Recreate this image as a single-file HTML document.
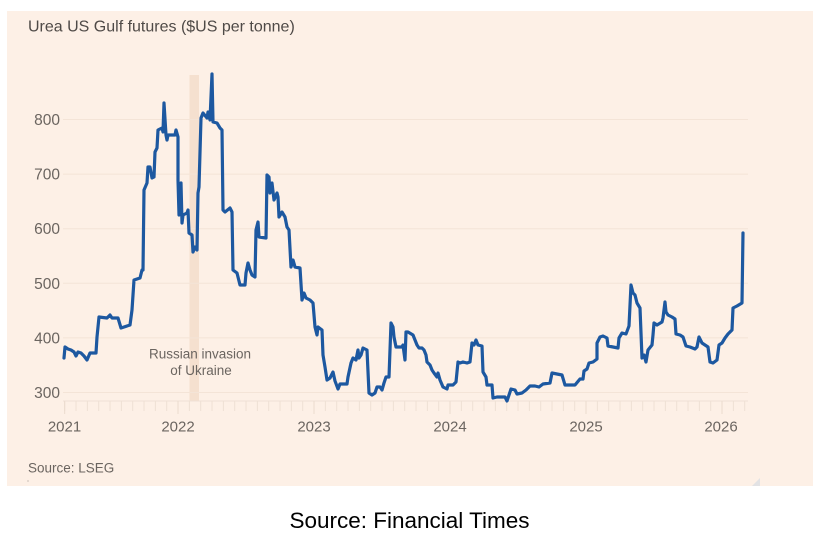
<!DOCTYPE html>
<html>
<head>
<meta charset="utf-8">
<style>
  html, body { margin:0; padding:0; background:#ffffff; }
  body { width:829px; height:535px; overflow:hidden; }
  svg { display:block; }
  text { font-family: "Liberation Sans", Arial, sans-serif; }
</style>
</head>
<body>
<svg width="829" height="535" viewBox="0 0 829 535" xmlns="http://www.w3.org/2000/svg">
  <defs>
    <pattern id="minor" patternUnits="userSpaceOnUse" x="64.2" y="401" width="11.3333" height="20">
      <rect x="0" y="0" width="1" height="10" fill="#eee0d4"/>
    </pattern>
  </defs>
  <rect x="0" y="0" width="829" height="535" fill="#ffffff"/>
  <rect x="7" y="11" width="806" height="475" fill="#fdf0e6"/>

  <rect x="189.5" y="75" width="9.5" height="326" fill="#f5e0cf"/>

  <g stroke="#f4e4d7" stroke-width="1">
    <line x1="63" y1="119.5" x2="748" y2="119.5"/>
    <line x1="63" y1="174.1" x2="748" y2="174.1"/>
    <line x1="63" y1="228.7" x2="748" y2="228.7"/>
    <line x1="63" y1="283.3" x2="748" y2="283.3"/>
    <line x1="63" y1="337.9" x2="748" y2="337.9"/>
    <line x1="63" y1="392.5" x2="748" y2="392.5"/>
  </g>
  <line x1="63" y1="401" x2="748" y2="401" stroke="#f0e1d5" stroke-width="1"/>

  <rect x="64" y="401" width="682" height="10" fill="url(#minor)"/>
  <g stroke="#eadbce" stroke-width="1">
    <line x1="64.7" y1="401" x2="64.7" y2="414"/>
    <line x1="178" y1="401" x2="178" y2="414"/>
    <line x1="314" y1="401" x2="314" y2="414"/>
    <line x1="450" y1="401" x2="450" y2="414"/>
    <line x1="586" y1="401" x2="586" y2="414"/>
    <line x1="722" y1="401" x2="722" y2="414"/>
  </g>

  <text x="28" y="31.5" font-size="16" fill="#4f4a47">Urea US Gulf futures ($US per tonne)</text>

  <g font-size="15.5" fill="#6b6560" text-anchor="end">
    <text x="60" y="125">800</text>
    <text x="60" y="179.6">700</text>
    <text x="60" y="234.2">600</text>
    <text x="60" y="288.8">500</text>
    <text x="60" y="343.4">400</text>
    <text x="60" y="398">300</text>
  </g>

  <g font-size="15" fill="#6b6560" text-anchor="middle">
    <text x="64.5" y="431.5">2021</text>
    <text x="178" y="431.5">2022</text>
    <text x="314" y="431.5">2023</text>
    <text x="450" y="431.5">2024</text>
    <text x="586" y="431.5">2025</text>
    <text x="721" y="431.5">2026</text>
  </g>

  <g font-size="13.5" fill="#6b6560" text-anchor="middle">
    <text x="200" y="358.3">Russian invasion</text>
    <text x="201" y="375">of Ukraine</text>
  </g>

  <polyline fill="none" stroke="#1d58a0" stroke-width="3.2" stroke-linejoin="round" stroke-linecap="round"
    points="64,358 65,347 68,349 71,350 74,352 76,356 78,352 81,353 84,356 87,360 90,353 96,353 97,337 99,317 107,318 110,315 112,318 118,318 121,328 130,325 132,310 134,280 140,278 142,270 143,270 144,190 147,183 148,167 150,167 152,178 154,177 155,152 157,148 158,130 162,128 163,132 164,103 166,135 167,140 168,135 175,135 176,130 178,137 178,180 179,215 181,183 182,223 183,215 187,213 188,210 189,233 192,235 193,252 195,247 197,250 198,193 199,187 201,118 203,113 207,118 208,112 210,120 212,74 213,122 217,123 220,128 222,130 223,210 225,212 230,208 232,212 233,270 237,273 240,285 245,285 246,273 248,263 250,270 252,275 255,277 256,230 258,222 259,237 266,238 267,175 269,177 270,193 272,183 274,200 277,193 278,197 279,217 282,212 285,217 287,227 289,230 291,267 293,260 295,267 300,268 302,300 304,293 306,298 310,300 313,303 315,327 317,335 318,327 322,330 323,355 325,367 327,380 330,378 333,372 335,381 338,389 340,384 347,384 348,377 351,363 353,358 356,360 358,350 359,358 361,355 363,348 367,350 369,393 372,395 375,393 377,387 380,387 382,390 384,383 386,377 389,377 391,323 393,327 394,337 396,347 402,347 403,345 405,360 406,332 408,332 413,335 415,340 417,345 419,348 422,348 424,350 426,355 427,362 430,365 432,370 434,373 437,377 438,373 440,380 443,387 447,389 448,385 453,385 456,382 458,362 460,363 463,362 467,363 470,362 472,343 474,345 476,340 478,345 482,346 483,372 486,377 487,385 492,385 493,398 497,397 505,397 507,401 511,389 515,390 517,394 522,393 526,390 530,386 535,386 539,387 543,384 550,383 552,373 557,374 562,375 565,385 568,385 575,385 580,379 583,379 584,371 587,369 589,363 593,362 597,359 597,343 600,337 603,336 607,338 608,346 613,347 618,348 619,338 622,333 626,334 629,326 631,285 633,293 635,295 637,303 640,308 642,358 644,355 646,362 648,350 652,345 653,335 654,323 657,325 662,322 663,318 665,302 666,312 668,315 672,317 675,319 676,334 680,335 683,337 686,346 690,347 695,349 697,347 699,337 702,343 705,345 708,347 710,362 713,363 717,360 719,345 722,343 725,338 728,334 732,330 733,308 737,306 742,303 743,233"/>

  <text x="28" y="472.5" font-size="13.5" fill="#6b6560">Source: LSEG</text>
  <rect x="27.5" y="480.5" width="1" height="1" fill="#9a918a"/>

  <polygon points="760,478 760,486 752,486" fill="#e2e2e4"/>

  <text x="409.5" y="528" font-size="22.5" fill="#000000" text-anchor="middle">Source: Financial Times</text>
</svg>
</body>
</html>
